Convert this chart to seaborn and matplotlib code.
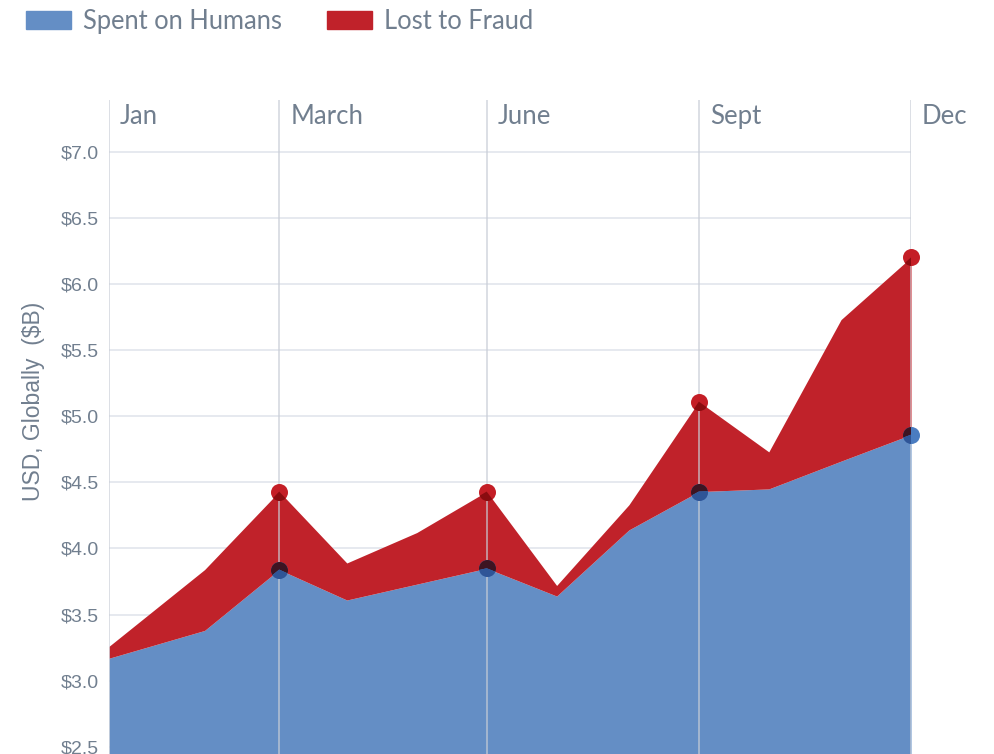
import seaborn as sns
import matplotlib.pyplot as plt
from matplotlib.patches import Patch
import numpy as np

# data
days = [0, 41, 73, 102, 132, 162, 192, 223, 253, 283, 314, 344]
humans = [3.17, 3.38, 3.84, 3.61, 3.73, 3.85, 3.64, 4.14, 4.43, 4.45, 4.66, 4.86]
fraud = [0.09, 0.46, 0.59, 0.28, 0.39, 0.58, 0.08, 0.19, 0.68, 0.28, 1.07, 1.34]
month_days = [0, 73, 162, 253, 344]
month_labels = ['Jan', 'March', 'June', 'Sept', 'Dec']
dot_days = [73, 162, 253, 344]
yticks = [2.5, 3.0, 3.5, 4.0, 4.5, 5.0, 5.5, 6.0, 6.5, 7.0]

blue = '#648ec5'
red = '#c0222a'
txt = '#717f8f'
label_font = ['Lato', 'DejaVu Sans']

sns.set_theme(style='white')
plt.rcParams['font.family'] = ['Liberation Sans', 'DejaVu Sans']

x = np.array(days)
h = np.array(humans)
total = h + np.array(fraud)

fig = plt.figure(figsize=(9.94, 7.54), dpi=100)
ax = fig.add_axes([109/994, 0, (911-109)/994, (754-100)/754])

blue_poly = ax.fill_between(x, 0, h, color=blue, lw=0, zorder=2)
red_poly = ax.fill_between(x, h, total, color=red, lw=0, zorder=2)

# gridlines
for t in yticks:
    ax.axhline(t, color='#e1e5ec', lw=1.2, zorder=1)
for d in month_days:
    ax.axvline(d, color='#c8cdd6', lw=1.2, alpha=0.75, zorder=3)

# dots at the month marks (darker where they sit over a filled area)
idx = [days.index(d) for d in dot_days]
dx = x[idx]
for yy, c, c_on_red, c_on_blue in [(h[idx], '#4a7cc0', '#3d1422', '#2f5597'),
                                    (total[idx], '#c41e26', '#8a0c10', '#8a0c10')]:
    sns.scatterplot(x=dx, y=yy, ax=ax, color=c, s=150, linewidth=0, zorder=4,
                    legend=False, clip_on=False)
    sc = ax.scatter(dx, yy, color=c_on_red, s=150, linewidth=0, zorder=5)
    sc.set_clip_path(red_poly.get_paths()[0], ax.transData)
    sc2 = ax.scatter(dx, yy, color=c_on_blue, s=150, linewidth=0, zorder=5)
    sc2.set_clip_path(blue_poly.get_paths()[0], ax.transData)

ax.set_xlim(0, 344)
ax.set_ylim(2.446, 7.39)
ax.set_yticks(yticks)
ax.set_yticklabels([f'${t:.1f}' for t in yticks], color=txt, fontsize=14)
ax.tick_params(axis='y', length=0, pad=7)
ax.set_xticks([])
ax.set_xlabel('')
ax.set_ylabel('')
for s in ['top', 'right', 'bottom', 'left']:
    ax.spines[s].set_visible(False)

# month labels along the top
for d, lab in zip(month_days, month_labels):
    ax.annotate(lab, xy=(d, 1), xycoords=('data', 'axes fraction'), xytext=(8, -12),
                textcoords='offset points', ha='left', va='center', fontsize=18.5,
                color=txt, family=label_font, annotation_clip=False)

fig.text(34/994, 1 - 401/754, 'USD, Globally  ($B)', rotation=90, ha='center', va='center',
         fontsize=16.5, color=txt)

handles = [Patch(color=blue, label='Spent on Humans'), Patch(color=red, label='Lost to Fraud')]
leg = fig.legend(handles=handles, loc='upper left', bbox_to_anchor=(26/994, 1 - 9/754),
                 ncol=2, frameon=False, borderaxespad=0, borderpad=0,
                 handlelength=1.76, handleheight=0.66, handletextpad=0.47, columnspacing=1.76,
                 prop={'family': label_font, 'size': 18.4})
for t in leg.get_texts():
    t.set_color(txt)

plt.savefig('out.png', dpi=100)
